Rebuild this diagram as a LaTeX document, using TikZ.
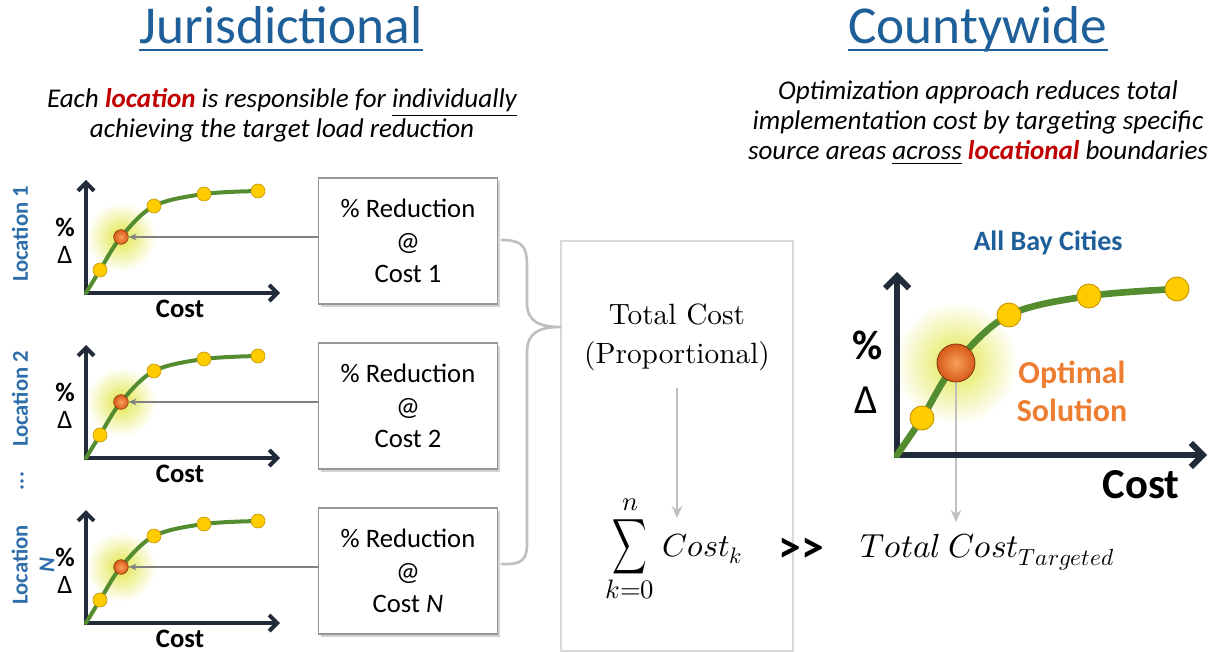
\documentclass[tikz,border=0pt]{standalone}
\usepackage{fontspec}
\usepackage{unicode-math}
\setmathfont{Latin Modern Math}
\setsansfont{Carlito}
\newfontfamily\cambr{lmroman10-regular}[Extension=.otf]
\renewcommand{\familydefault}{\sfdefault}
\usepackage{graphicx}
\usetikzlibrary{arrows.meta,shadows,calc}
\definecolor{tblue}{RGB}{31,95,153}
\definecolor{lblue}{RGB}{46,110,170}
\definecolor{tred}{RGB}{192,0,0}
\definecolor{torange}{RGB}{237,125,49}
\definecolor{curvec}{RGB}{84,140,48}
\definecolor{axisc}{RGB}{33,43,58}
\definecolor{dotyel}{RGB}{255,204,0}
\definecolor{dotedge}{RGB}{200,150,0}
\definecolor{dotorin}{RGB}{250,160,90}
\definecolor{dotorout}{RGB}{215,90,25}
\definecolor{glowc}{RGB}{225,230,70}
\definecolor{midgray}{RGB}{128,128,128}
\definecolor{lgray}{RGB}{191,191,191}
\definecolor{boxgray}{RGB}{150,150,150}
\definecolor{bigboxc}{RGB}{217,217,217}
\begin{document}
\begin{tikzpicture}[x=0.75pt,y=-0.75pt,
  ydot/.style={circle,inner sep=0pt,minimum size=10.5pt,fill=dotyel,draw=dotedge,line width=0.5pt},
  bigydot/.style={circle,inner sep=0pt,minimum size=18pt,fill=dotyel,draw=dotedge,line width=0.7pt},
  odot/.style={circle,inner sep=0pt,minimum size=11pt,shade,inner color=dotorin,outer color=dotorout,draw=dotorout!60!black,line width=0.4pt},
  bigodot/.style={circle,inner sep=0pt,minimum size=28.5pt,shade,inner color=dotorin,outer color=dotorout,draw=dotorout!60!black,line width=0.6pt},
  axis/.style={draw=axisc,line width=3pt,line join=miter,arrows={Straight Barb[length=6pt,width=12pt]-Straight Barb[length=6pt,width=12pt]}},
  bigaxis/.style={draw=axisc,line width=4.5pt,line join=miter,arrows={Straight Barb[length=9pt,width=18pt]-Straight Barb[length=9pt,width=18pt]}},
  curve/.style={draw=curvec,line width=3pt,line cap=round},
  bigcurve/.style={draw=curvec,line width=5pt,line cap=round},
  box/.style={draw=boxgray,line width=0.8pt,fill=white,minimum width=134pt,minimum height=94.5pt,align=center,font=\fontsize{20}{24.4}\selectfont,drop shadow={shadow xshift=2pt,shadow yshift=-2pt,opacity=0.35}},
  garrow/.style={draw=midgray,line width=1.2pt,-{Stealth[length=6pt,width=5pt]}},
  larrow/.style={draw=lgray,line width=2pt,-{Stealth[length=9pt,width=8pt]}},
  brace/.style={draw=lgray,line width=2pt},
  loc/.style={rotate=90,text=lblue,font=\bfseries\fontsize{17}{20}\selectfont,align=center},
  title/.style={anchor=base,inner sep=0pt,text=tblue,font=\fontsize{40}{48}\selectfont},
  subt/.style={align=center,font=\itshape\fontsize{20.3}{22.5}\selectfont}
]
\useasboundingbox (0,0) rectangle (1210,652);

% titles
\node[title] (t1) at (281,44) {Jurisdictional};
\draw[tblue,line width=1.6pt] ([yshift=-4.5pt]t1.base west) -- ([yshift=-4.5pt]t1.base east);
\node[title] (t2) at (978,44) {Countywide};
\draw[tblue,line width=1.6pt] ([yshift=-4.5pt]t2.base west) -- ([yshift=-4.5pt]t2.base east);

\node[subt] (s1) at (282,115) {Each \textcolor{tred}{\bfseries location} is responsible for \underline{individually}\\achieving the target load reduction};
\node[subt] (s2) at (978,123) {Optimization approach reduces total\\implementation cost by targeting specific\\source areas \underline{across} \textcolor{tred}{\bfseries locational} boundaries};

% small charts
\foreach \i/\dy/\lab in {1/0/1,2/165/2,3/330/\textit{N}}{
\begin{scope}[shift={(0,\dy)}]
 \shade[inner color=glowc,outer color=white] (121,237) circle (26pt);
 \draw[axis] (86,180) -- (86,293) -- (280,293);
 \draw[curve] plot[smooth,tension=0.55] coordinates {(86,293) (100,270) (121,237) (154,206) (204,194) (258,191)};
 \node[ydot] (a\i) at (100,270) {};
 \node[odot] (o\i) at (121,237) {};
 \node[ydot] (b\i) at (154,206) {};
 \node[ydot] (c\i) at (204,194) {};
 \node[ydot] (d\i) at (258,191) {};
 \node[font=\bfseries\fontsize{20}{24}\selectfont] (p\i) at (65,227) {\%};
 \node[font=\fontsize{20}{24}\selectfont] (dl\i) at (65,255) {Δ};
 \node[font=\bfseries\fontsize{20}{24}\selectfont] (cx\i) at (180,309) {Cost};
 \node[box] (box\i) at (408,241) {\% Reduction\\@\\Cost \lab};
 \draw[garrow] (box\i.west |- o\i) -- (o\i.east);
\end{scope}
}

\node[loc] (l1) at (20,234) {Location 1};
\node[loc] (l2) at (20,399) {Location 2};
\node[loc] (l3) at (22,481) {...};
\node[loc] (l4) at (33,565) {Location\\\textit{N}};

% big box
\node[draw=bigboxc,line width=0.8pt,inner sep=0pt,minimum width=174pt,minimum height=307.5pt] (bigbox) at (677,446) {};
\coordinate (cusp) at (561,327);
\draw[brace] ($(box1.east)+(3,-1)$) .. controls (527,240) and (527,250) .. (527,272) -- (527,303)
  .. controls (527,322) and (540,327) .. (cusp)
  .. controls (540,327) and (527,332) .. (527,352) -- (527,543)
  .. controls (527,560) and (522,565) .. ($(box3.east)+(3,-7)$);

\node[font=\cambr\fontsize{22}{29}\selectfont,align=center] (tc) at (677,337) {Total Cost\\(Proportional)};
\coordinate (sumtop) at (677,518);
\draw[larrow] ([yshift=-10pt]tc.south) -- (sumtop);

\node[font=\fontsize{20}{24}\selectfont,inner sep=0pt] (sig) at (630,547) {\scalebox{0.9}[1.45]{$\displaystyle\sum$}};
\node[font=\fontsize{20}{24}\selectfont,inner sep=0pt] (sn) at (630,505) {$n$};
\node[font=\fontsize{20}{24}\selectfont,inner sep=0pt] (sk) at (630,590) {$k{=}0$};
\node[font=\fontsize{24}{28}\selectfont,anchor=base west,inner sep=0pt] (ck) at (662,556) {$Cost_k$};
\node[font=\bfseries\fontsize{34}{40}\selectfont] (gg) at (801,550) {>{}>};

% big chart
\node[text=tblue,font=\bfseries\fontsize{21}{25}\selectfont] (abc) at (1048,243) {All Bay Cities};
\shade[inner color=glowc,outer color=white] (956,363) circle (46pt);
\coordinate (obc) at (956,363);
\coordinate (tct) at (956,522);
\draw[larrow] (obc) -- (tct);
\draw[bigaxis] (897,272) -- (897,455) -- (1207,455);
\draw[bigcurve] plot[smooth,tension=0.55] coordinates {(897,455) (922,418) (956,363) (1009,315) (1089,296) (1177,289)};
\node[bigydot] (ba) at (922,418) {};
\node[bigodot] (bo) at (obc) {};
\node[bigydot] (bb) at (1009,315) {};
\node[bigydot] (bc) at (1089,296) {};
\node[bigydot] (bd) at (1177,289) {};
\node[font=\bfseries\fontsize{31}{36}\selectfont] (bp) at (868,345) {\%};
\node[font=\fontsize{31}{36}\selectfont] (bdl) at (866,400) {Δ};
\node[font=\bfseries\fontsize{32}{38}\selectfont] (bcost) at (1141,485) {Cost};
\node[text=torange,align=center,font=\bfseries\fontsize{24}{28.5}\selectfont] (opt) at (1072,391) {Optimal\\Solution};
\node[font=\fontsize{25}{30}\selectfont,anchor=base west,inner sep=0pt] (ttc) at (860,557) {$Total\ Cost_{Targeted}$};
\end{tikzpicture}
\end{document}
